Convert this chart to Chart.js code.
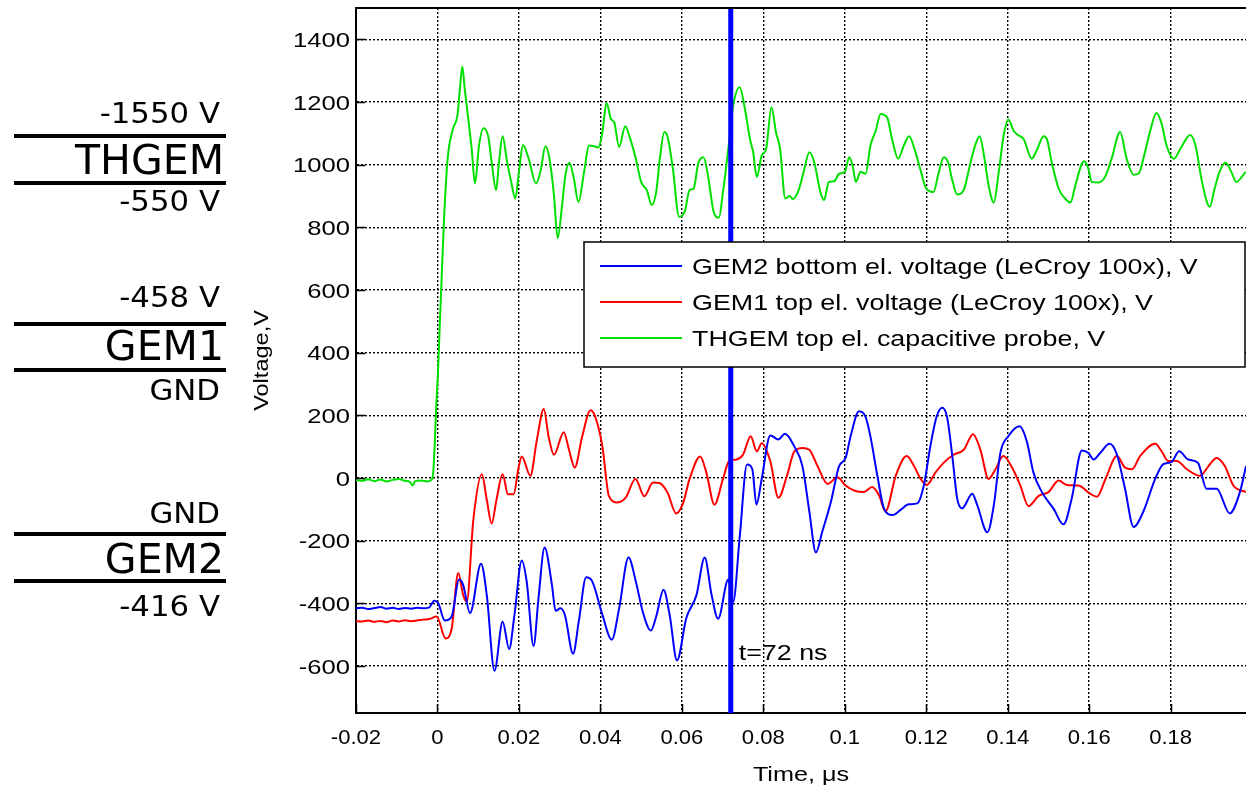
<!DOCTYPE html>
<html>
<head>
<meta charset="utf-8">
<script src="https://cdn.jsdelivr.net/npm/chart.js@4/dist/chart.umd.min.js"></script>
<style>
  html, body { margin: 0; padding: 0; background: #fff; }
  #scope { display: block; }
</style>
</head>
<body>
<canvas id="scope" width="1246" height="787"></canvas>
<script>
// GEM2 bottom electrode (LeCroy 100x), time in us, voltage in V
const gem2Time = [-0.02, -0.0185, -0.017, -0.0155, -0.014, -0.0125, -0.011, -0.0095, -0.008, -0.0065, -0.005, -0.0035, -0.002, -0.0008,
  0.0002, 0.0018, 0.0035, 0.0053, 0.0063, 0.008, 0.0107, 0.0121, 0.014, 0.016, 0.0176, 0.0189, 0.0207, 0.0219, 0.0236, 0.0248,
  0.0263, 0.0281, 0.029, 0.0302, 0.0313, 0.0333, 0.0347, 0.0365, 0.038, 0.0405, 0.0428, 0.0446, 0.0469, 0.0487, 0.0504, 0.0524,
  0.0537, 0.0555, 0.057, 0.0588, 0.0611, 0.0636, 0.0656, 0.0673, 0.0689, 0.0714, 0.0726, 0.0742, 0.076, 0.0773, 0.0783, 0.0796,
  0.0817, 0.0837, 0.0853, 0.0876, 0.0896, 0.0913, 0.0929, 0.0945, 0.0966, 0.0986, 0.1002, 0.1014, 0.1035, 0.1051, 0.1063, 0.108,
  0.1096, 0.1117, 0.1137, 0.1157, 0.1178, 0.1194, 0.121, 0.1225, 0.1239, 0.1251, 0.1264, 0.1276, 0.1288, 0.1313, 0.1325, 0.135,
  0.1366, 0.1382, 0.1402, 0.1429, 0.1447, 0.1463, 0.1484, 0.1512, 0.1537, 0.1557, 0.1582, 0.1598, 0.1611, 0.1627, 0.165, 0.1668,
  0.1688, 0.1709, 0.1733, 0.1762, 0.1782, 0.1802, 0.1821, 0.1843, 0.1867, 0.1888, 0.1913, 0.1945, 0.197, 0.1985];
const gem2Volt = [-416, -414, -418, -415, -412, -417, -414, -418, -415, -417, -414, -416, -413, -392,
  -400, -455, -442, -324, -341, -431, -274, -373, -615, -459, -546, -437, -263, -330, -536, -384,
  -222, -341, -424, -416, -438, -561, -457, -317, -330, -437, -516, -416, -254, -330, -427, -487,
  -442, -357, -437, -582, -447, -373, -254, -373, -449, -324, -395, -189, 43, 28, -85, -3,
  136, 123, 141, 101, 38, -107, -238, -170, -76, 38, 64, 132, 213, 195, 132, 7,
  -97, -118, -102, -84, -81, -24, 101, 194, 224, 195, 70, -66, -97, -50, -86, -173,
  -86, 80, 134, 165, 116, 18, -45, -97, -148, -66, 88, 80, 59, 80, 109, 75,
  -34, -156, -107, -3, 44, 51, 85, 59, 49, -34, -34, -113, -45, 38];

// GEM1 top electrode (LeCroy 100x)
const gem1Time = [-0.02, -0.0185, -0.017, -0.0155, -0.014, -0.0125, -0.011, -0.0095, -0.008, -0.0065, -0.005, -0.0035, -0.002, -0.0002,
  0.002, 0.0035, 0.0051, 0.0063, 0.0072, 0.0088, 0.0109, 0.0121, 0.0133, 0.0145, 0.016, 0.0173, 0.0187, 0.0199, 0.0207, 0.0228,
  0.0244, 0.0261, 0.0273, 0.0286, 0.031, 0.0323, 0.0337, 0.0355, 0.0376, 0.0388, 0.0405, 0.0421, 0.0442, 0.0462, 0.0486, 0.0508,
  0.0529, 0.0545, 0.0565, 0.0586, 0.0603, 0.0619, 0.0645, 0.066, 0.068, 0.0701, 0.0716, 0.0734, 0.075, 0.0769, 0.0784, 0.0796,
  0.0817, 0.0837, 0.0858, 0.0876, 0.0896, 0.0913, 0.0933, 0.0958, 0.0982, 0.1002, 0.1023, 0.1047, 0.1067, 0.1084, 0.11, 0.1125,
  0.1152, 0.117, 0.1184, 0.1201, 0.1223, 0.1243, 0.1268, 0.1292, 0.1315, 0.1333, 0.1353, 0.137, 0.1389, 0.1411, 0.1431, 0.1451,
  0.1476, 0.15, 0.1525, 0.1545, 0.1574, 0.1602, 0.1619, 0.164, 0.1668, 0.1688, 0.1705, 0.1725, 0.1762, 0.1778, 0.1794, 0.1815,
  0.184, 0.1872, 0.1893, 0.1913, 0.1933, 0.1954, 0.1985];
const gem1Volt = [-456, -458, -455, -459, -456, -460, -455, -458, -454, -457, -455, -452, -450, -442,
  -512, -480, -303, -373, -395, -134, 12, -69, -145, -69, 12, -52, -52, 33, 69, 7,
  121, 220, 131, 74, 146, 90, 33, 131, 216, 193, 100, -58, -78, -63, -3, -58,
  -14, -16, -47, -113, -80, -3, 69, 18, -85, -3, 54, 59, 74, 133, 85, 111,
  54, -63, 7, 85, 96, 90, 38, -19, 2, -24, -40, -45, -29, -55, -106, 7,
  70, 38, 2, -22, 18, 49, 75, 90, 140, 90, -3, 28, 70, 33, -24, -90,
  -57, -45, -8, -22, -24, -50, -60, -3, 70, 33, 28, 70, 109, 85, 54, 54,
  28, 7, 38, 64, 38, -24, -45];

// THGEM top electrode, capacitive probe
const thgemTime = [-0.02, -0.0185, -0.017, -0.0155, -0.014, -0.0125, -0.011, -0.0095, -0.008, -0.0068, -0.0061, -0.0055, -0.004, -0.0025,
  -0.0015, -0.0011, -0.0007, -0.0003, 0.0001, 0.0006, 0.0013, 0.0017, 0.0025, 0.0038, 0.0049, 0.0055, 0.0061, 0.0067, 0.0076, 0.0084,
  0.0092, 0.0102, 0.0113, 0.0125, 0.0133, 0.0144, 0.0151, 0.016, 0.0171, 0.0181, 0.0191, 0.02, 0.021, 0.0224, 0.0242, 0.0253,
  0.0265, 0.0275, 0.0286, 0.0295, 0.0306, 0.0314, 0.0324, 0.0335, 0.0346, 0.036, 0.0372, 0.0384, 0.0395, 0.0405, 0.0415, 0.0426,
  0.0434, 0.0446, 0.0461, 0.0472, 0.0487, 0.05, 0.0514, 0.0526, 0.0537, 0.0546, 0.0557, 0.0565, 0.0578, 0.0593, 0.0607, 0.0619,
  0.0629, 0.064, 0.0653, 0.0664, 0.0678, 0.0691, 0.0701, 0.0716, 0.0726, 0.0742, 0.0754, 0.0767, 0.0775, 0.0784, 0.0796, 0.0807,
  0.082, 0.0831, 0.0841, 0.0854, 0.0865, 0.0872, 0.0885, 0.0899, 0.0913, 0.0925, 0.094, 0.0949, 0.0961, 0.0974, 0.0986, 0.1,
  0.1011, 0.1019, 0.1027, 0.1039, 0.1051, 0.1063, 0.1076, 0.1088, 0.1104, 0.1116, 0.1131, 0.1145, 0.1158, 0.1171, 0.1186, 0.12,
  0.1218, 0.1229, 0.1243, 0.1255, 0.1263, 0.1276, 0.1292, 0.1308, 0.132, 0.1331, 0.1343, 0.1353, 0.1366, 0.1378, 0.139, 0.1402,
  0.1414, 0.1427, 0.1439, 0.1459, 0.1471, 0.1488, 0.1496, 0.1508, 0.1525, 0.1541, 0.1554, 0.1566, 0.1582, 0.1589, 0.1598, 0.1606,
  0.1623, 0.1639, 0.1655, 0.1676, 0.1692, 0.1709, 0.1721, 0.1737, 0.175, 0.1765, 0.1778, 0.179, 0.1808, 0.1824, 0.1848, 0.1861,
  0.1877, 0.1896, 0.1908, 0.192, 0.1935, 0.1949, 0.1961, 0.1984];
const thgemVolt = [-6, -9, -4, -10, -5, -11, -6, -3, -9, -12, -24, -10, -8, -11,
  -6, 10, 100, 230, 330, 500, 728, 850, 1019, 1114, 1157, 1241, 1313, 1241, 1141, 1051,
  940, 1061, 1116, 1088, 1008, 919, 1008, 1091, 1008, 945, 892, 977, 1063, 1019, 940, 979,
  1059, 1019, 903, 765, 871, 966, 1006, 955, 881, 977, 1061, 1059, 1055, 1104, 1197, 1146,
  1135, 1056, 1123, 1088, 1019, 945, 919, 871, 913, 1019, 1104, 1088, 987, 834, 850, 919,
  924, 1003, 1024, 966, 850, 831, 913, 1072, 1188, 1247, 1184, 1083, 1040, 961, 1029, 1051,
  1183, 1104, 1051, 892, 900, 890, 913, 977, 1040, 1008, 913, 887, 945, 947, 971, 977,
  1024, 998, 945, 977, 971, 1061, 1109, 1162, 1151, 1082, 1019, 1061, 1091, 1051, 982, 924,
  913, 966, 1024, 1003, 955, 905, 919, 1003, 1061, 1091, 1019, 934, 879, 977, 1093, 1144,
  1109, 1093, 1082, 1019, 1045, 1091, 1082, 1008, 924, 892, 879, 934, 1003, 1011, 987, 945,
  943, 961, 1019, 1104, 1019, 968, 971, 1040, 1109, 1165, 1130, 1061, 1019, 1051, 1095, 1061,
  945, 866, 924, 977, 1006, 977, 945, 977];

const markerTime = 0.072;
const markerText = 't=72 ns';
const seriesLabels = [
  'GEM2 bottom el. voltage (LeCroy 100x), V',
  'GEM1 top el. voltage (LeCroy 100x), V',
  'THGEM top el. capacitive probe, V'
];
const seriesColors = ['#0000ff', '#ff0000', '#00e000'];

// electrode stack drawn left of the plot: [text, centre y, kind]
const stackLabels = [
  ['-1550 V', 113, 'volt'], ['THGEM', 159, 'name'], ['-550 V', 201, 'volt'],
  ['-458 V', 297, 'volt'], ['GEM1', 345, 'name'], ['GND', 390, 'volt'],
  ['GND', 513, 'volt'], ['GEM2', 558, 'name'], ['-416 V', 606, 'volt']
];
const stackBars = [136, 183, 324, 370, 534, 581];

const toPoints = (ts, vs) => ts.map((t, i) => ({ x: t, y: vs[i] }));

const PLOT_FONT = '"Liberation Sans", Arial, sans-serif';

function wideText(ctx, text, x, y, size, sx, align, family) {
  ctx.save();
  ctx.font = size + 'px ' + (family || PLOT_FONT);
  ctx.fillStyle = '#000';
  ctx.textBaseline = 'alphabetic';
  ctx.textAlign = align;
  ctx.translate(x, y + size * 0.358);
  ctx.scale(sx, 1);
  ctx.fillText(text, 0, 0);
  ctx.restore();
}

const scopeDecor = {
  id: 'scopeDecor',
  afterDraw(chart) {
    const { ctx, chartArea: a, scales: { x, y } } = chart;

    // inner tick marks and top frame line
    ctx.save();
    ctx.strokeStyle = '#000';
    ctx.lineWidth = 1.5;
    ctx.beginPath();
    y.ticks.forEach(t => {
      const py = Math.round(y.getPixelForValue(t.value)) + 0.5;
      ctx.moveTo(a.left, py); ctx.lineTo(a.left + 9, py);
    });
    x.ticks.forEach(t => {
      const px = Math.round(x.getPixelForValue(t.value)) + 0.5;
      ctx.moveTo(px, a.bottom); ctx.lineTo(px, a.bottom - 9);
    });
    ctx.stroke();
    ctx.lineWidth = 2;
    ctx.beginPath();
    ctx.moveTo(a.left - 1, a.top); ctx.lineTo(a.right, a.top);
    ctx.stroke();
    ctx.restore();

    // tick labels
    y.ticks.forEach(t => {
      wideText(ctx, String(t.value), a.left - 6, y.getPixelForValue(t.value), 21, 1.22, 'right');
    });
    x.ticks.forEach(t => {
      const v = Math.round(t.value * 100) / 100;
      wideText(ctx, String(v), x.getPixelForValue(t.value), 736, 21, 1.05, 'center');
    });

    // axis titles
    wideText(ctx, 'Time, \u03bcs', (a.left + a.right) / 2, 773, 21, 1.2, 'center');
    ctx.save();
    ctx.translate(262, (a.top + a.bottom) / 2);
    ctx.rotate(-Math.PI / 2);
    ctx.scale(1.12, 1);
    ctx.font = '21px ' + PLOT_FONT;
    ctx.fillStyle = '#000';
    ctx.textAlign = 'center';
    ctx.textBaseline = 'middle';
    ctx.fillText('Voltage,V', 0, 0);
    ctx.restore();

    // marker annotation
    wideText(ctx, markerText, x.getPixelForValue(markerTime) + 8, y.getPixelForValue(-555), 22, 1.22, 'left');

    // legend box
    const box = { left: 584, top: 242, right: 1245, bottom: 367 };
    ctx.save();
    ctx.fillStyle = '#fff';
    ctx.fillRect(box.left, box.top, box.right - box.left, box.bottom - box.top);
    ctx.strokeStyle = '#000';
    ctx.lineWidth = 1.5;
    ctx.strokeRect(box.left, box.top, box.right - box.left, box.bottom - box.top);
    ctx.restore();
    [1, 2, 3].forEach((di, row) => {
      const ds = chart.data.datasets[di];
      const cy = 266 + row * 36;
      ctx.save();
      ctx.strokeStyle = ds.borderColor;
      ctx.lineWidth = 2;
      ctx.beginPath();
      ctx.moveTo(600, cy); ctx.lineTo(682, cy);
      ctx.stroke();
      ctx.restore();
      wideText(ctx, ds.label, 692, cy, 22, 1.22, 'left');
    });

    // electrode stack on the left
    ctx.save();
    ctx.fillStyle = '#000';
    stackBars.forEach(cy => ctx.fillRect(14, cy - 2, 212, 4));
    ctx.restore();
    stackLabels.forEach(([text, cy, kind]) => {
      ctx.save();
      ctx.fillStyle = '#000';
      ctx.textAlign = 'right';
      if (kind === 'name') {
        ctx.font = '41px "DejaVu Sans"';
        ctx.fillText(text, 224, cy + 41 * 0.3645);
      } else {
        ctx.font = '28px "DejaVu Sans"';
        ctx.translate(220, cy + 28 * 0.3645);
        ctx.scale(1.1, 1);
        ctx.fillText(text, 0, 0);
      }
      ctx.restore();
    });
  }
};

const gridStyle = { color: '#000', lineWidth: 1.4, drawTicks: false };
const borderStyle = { color: '#000', width: 2, dash: [2, 2] };

new Chart(document.getElementById('scope').getContext('2d'), {
  type: 'line',
  data: {
    datasets: [
      {
        label: markerText,
        data: [{ x: markerTime, y: -750 }, { x: markerTime, y: 1500 }],
        borderColor: '#0000ff',
        borderWidth: 5,
        tension: 0,
        cubicInterpolationMode: 'default',
        order: 0
      },
      { label: seriesLabels[0], data: toPoints(gem2Time, gem2Volt), borderColor: seriesColors[0], order: 1 },
      { label: seriesLabels[1], data: toPoints(gem1Time, gem1Volt), borderColor: seriesColors[1], order: 2 },
      { label: seriesLabels[2], data: toPoints(thgemTime, thgemVolt), borderColor: seriesColors[2], order: 3 }
    ]
  },
  options: {
    responsive: false,
    animation: false,
    events: [],
    layout: { padding: { left: 228, top: 8, right: 0, bottom: 0 } },
    elements: {
      point: { radius: 0 },
      line: { borderWidth: 2, cubicInterpolationMode: 'monotone' }
    },
    plugins: { legend: { display: false }, tooltip: { enabled: false } },
    scales: {
      x: {
        type: 'linear', min: -0.02, max: 0.1985,
        ticks: { stepSize: 0.02, includeBounds: false, display: false },
        grid: gridStyle, border: borderStyle,
        afterFit: s => { s.height = 74; }
      },
      y: {
        type: 'linear', min: -750, max: 1500,
        ticks: { stepSize: 200, includeBounds: false, display: false },
        grid: gridStyle, border: borderStyle,
        afterFit: s => { s.width = 128; }
      }
    }
  },
  plugins: [scopeDecor]
});
</script>
</body>
</html>
